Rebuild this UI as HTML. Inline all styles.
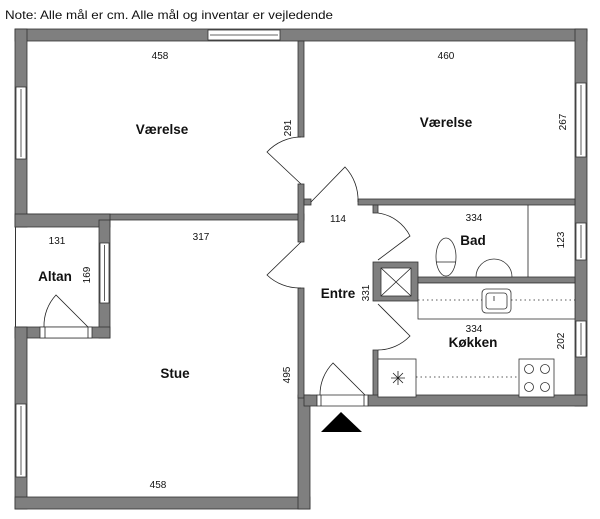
<!DOCTYPE html>
<html><head><meta charset="utf-8"><style>
html,body{margin:0;padding:0;background:#fff;width:600px;height:519px;overflow:hidden}
text{font-family:"Liberation Sans",sans-serif;fill:#111}
.d{font-size:10px}
.b{font-size:13.5px;font-weight:bold}
</style></head><body>
<svg width="600" height="519" viewBox="0 0 600 519" xmlns="http://www.w3.org/2000/svg">
<text x="5" y="19" font-size="12" textLength="328" lengthAdjust="spacingAndGlyphs">Note: Alle mål er cm. Alle mål og inventar er vejledende</text>
<g fill="#7f7f7f" stroke="#333" stroke-width="0.8">
<rect x="15" y="29" width="572" height="12"/>
<rect x="15" y="29" width="12" height="198"/>
<rect x="575" y="29" width="12" height="377"/>
<rect x="27" y="214" width="277" height="6"/>
<rect x="15" y="214" width="95" height="13"/>
<rect x="99" y="220" width="11" height="118"/>
<rect x="15" y="327" width="95" height="11"/>
<rect x="15" y="327" width="12" height="182"/>
<rect x="15" y="497" width="295" height="12"/>
<rect x="298" y="395" width="12" height="114"/>
<rect x="298" y="41" width="6" height="96"/>
<rect x="298" y="184" width="6" height="58"/>
<rect x="298" y="288" width="6" height="110"/>
<rect x="304" y="199" width="7" height="6"/>
<rect x="358" y="199" width="217" height="6"/>
<rect x="373" y="205" width="5" height="8"/>
<rect x="373" y="262" width="45" height="39"/>
<rect x="418" y="277" width="157" height="6"/>
<rect x="373" y="350" width="5" height="47"/>
<rect x="304" y="395" width="13" height="11"/>
<rect x="368" y="395" width="219" height="11"/>
</g>
<line x1="15.5" y1="227" x2="15.5" y2="327" stroke="#333" stroke-width="1"/>
<g fill="#fff" stroke="#333" stroke-width="0.8">
<rect x="381" y="268" width="30" height="28"/>
<rect x="208" y="30" width="72" height="10"/><line x1="210" y1="35" x2="278" y2="35"/>
<rect x="16" y="87" width="10" height="72"/><line x1="21" y1="89" x2="21" y2="157"/>
<rect x="16" y="404" width="10" height="73"/><line x1="21" y1="406" x2="21" y2="475"/>
<rect x="100" y="243" width="9" height="60"/><line x1="104.5" y1="245" x2="104.5" y2="301"/>
<rect x="576" y="83" width="10" height="74"/><line x1="581" y1="85" x2="581" y2="155"/>
<rect x="576" y="223" width="10" height="37"/><line x1="581" y1="225" x2="581" y2="258"/>
<rect x="576" y="321" width="10" height="36"/><line x1="581" y1="323" x2="581" y2="355"/>
<rect x="40" y="327" width="52" height="11"/>
<rect x="317" y="395" width="51" height="11"/>
<rect x="418" y="283" width="157" height="36"/>
<rect x="378" y="359" width="38" height="38"/>
<rect x="519" y="359" width="35" height="38"/>
<rect x="482" y="289" width="29" height="24" rx="4"/>
<rect x="486" y="293" width="21" height="16" rx="3"/>
<ellipse cx="446" cy="257" rx="10" ry="19"/>
<path d="M476 277 A18 18 0 0 1 512 277 Z"/>
<circle cx="529" cy="369" r="4.5"/><circle cx="545" cy="369" r="4.5"/>
<circle cx="529" cy="387" r="4.5"/><circle cx="545" cy="387" r="4.5"/>
</g>
<g fill="none" stroke="#222" stroke-width="0.8">
<line x1="381" y1="268" x2="411" y2="296"/><line x1="411" y1="268" x2="381" y2="296"/>
<line x1="528" y1="205" x2="528" y2="277"/>
<line x1="45" y1="327" x2="45" y2="338"/><line x1="88" y1="327" x2="88" y2="338"/>
<line x1="321" y1="395" x2="321" y2="406"/><line x1="364" y1="395" x2="364" y2="406"/>
<line x1="436" y1="262" x2="456" y2="262"/>
<line x1="494" y1="296" x2="494" y2="301"/>
<line x1="418" y1="300" x2="482" y2="300" stroke-dasharray="1.5 3"/>
<line x1="511" y1="300" x2="575" y2="300" stroke-dasharray="1.5 3"/>
<line x1="416" y1="377" x2="519" y2="377" stroke-dasharray="1.5 3"/>
<path d="M391 378h14M398 371v14M393 373l10 10M403 373l-10 10"/>
<path d="M301 184 L267 152 A47 47 0 0 1 301 137"/>
<path d="M301 242 L267 275 A47 47 0 0 0 301 288"/>
<path d="M311 202 L345 167 A48 48 0 0 1 358 202"/>
<path d="M378 260 L410 236 A42 42 0 0 0 378 213"/>
<path d="M378 304 L410 336 A45 45 0 0 1 378 350"/>
<path d="M88 327 L56 295 A45 45 0 0 0 44 327"/>
<path d="M365 395 L333 363 A45 45 0 0 0 320 395"/>
</g>
<polygon points="321,432 341,412 362,432" fill="#000"/>
<g text-anchor="middle">
<text class="d" x="160" y="59">458</text>
<text class="b" x="162" y="134">Værelse</text>
<text class="d" x="446" y="59">460</text>
<text class="b" x="446" y="127">Værelse</text>
<text class="d" x="57" y="244">131</text>
<text class="d" x="201" y="240">317</text>
<text class="b" x="55" y="281">Altan</text>
<text class="b" x="175" y="378">Stue</text>
<text class="d" x="158" y="488">458</text>
<text class="d" x="338" y="222">114</text>
<text class="b" x="338" y="298">Entre</text>
<text class="d" x="474" y="221">334</text>
<text class="b" x="473" y="245">Bad</text>
<text class="d" x="474" y="332">334</text>
<text class="b" x="473" y="347">Køkken</text>
<text class="d" transform="translate(291,128) rotate(-90)">291</text>
<text class="d" transform="translate(566,122) rotate(-90)">267</text>
<text class="d" transform="translate(90,275) rotate(-90)">169</text>
<text class="d" transform="translate(290,375) rotate(-90)">495</text>
<text class="d" transform="translate(369,293) rotate(-90)">331</text>
<text class="d" transform="translate(564,240) rotate(-90)">123</text>
<text class="d" transform="translate(564,341) rotate(-90)">202</text>
</g>
</svg>
</body></html>
